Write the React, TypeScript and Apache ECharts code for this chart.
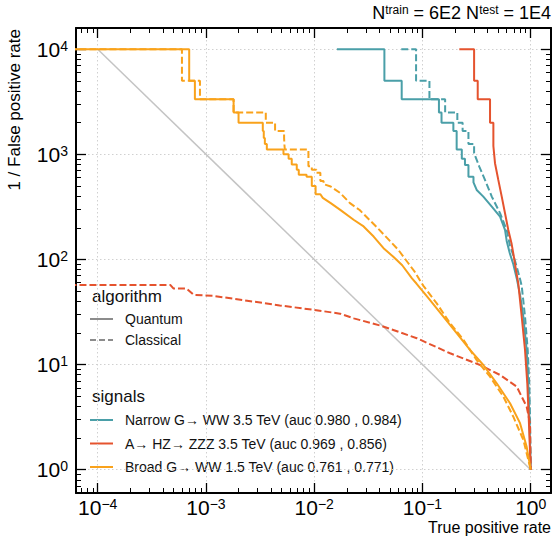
import React, { useEffect, useRef } from "react";
import * as echarts from "echarts";

const FONT = "'Liberation Sans', Arial, Helvetica, sans-serif";

// axis ranges (true positive rate, 1 / false positive rate)
const X_MIN = 6.3e-5;
const X_MAX = 1.54;
const Y_MIN = 0.6;
const Y_MAX = 15900;

const xMajorTicks = [1e-4, 1e-3, 1e-2, 1e-1, 1];
const yMajorTicks = [1, 10, 100, 1000, 10000];
const minorMultipliers = [2, 3, 4, 5, 6, 7, 8, 9];
const xMinorDecades = [1e-5, 1e-4, 1e-3, 1e-2, 1e-1, 1];
const yMinorDecades = [0.1, 1, 10, 100, 1000, 10000];

// Random classifier diagonal
const randomTPR = [1e-4, 1];
const randomInvFPR = [10000, 1];

// Broad G -> WW 1.5 TeV, quantum (solid)
const broadQStepTPR = [1e-5, 7.0e-4, 7.9e-4, 1.8e-3, 2.0e-3, 3.35e-3, 3.42e-3, 3.5e-3, 3.65e-3, 5.2e-3, 5.8e-3, 6.2e-3, 6.9e-3, 7.2e-3, 8.5e-3, 9.5e-3, 1.03e-2, 1.14e-2];
const broadQStepInvFPR = [10000, 5000, 3333, 2500, 2000, 1667, 1429, 1250, 1111, 1000, 909, 800, 714, 640, 610, 500, 417];
const broadQTailTPR = [0.012, 0.0142, 0.0174, 0.0233, 0.0286, 0.0354, 0.0437, 0.0538, 0.065, 0.08, 0.088, 0.117, 0.156, 0.207, 0.275, 0.365, 0.485, 0.644, 0.797, 0.918, 1.0];
const broadQTailInvFPR = [385, 343, 296, 237, 206, 165, 128, 106, 88, 66, 59, 41.3, 28.6, 19.9, 13.8, 9.9, 6.63, 4.28, 2.77, 1.65, 1.0];

// Broad G -> WW 1.5 TeV, classical (dashed)
const broadCStepTPR = [1e-5, 6.0e-4, 8.8e-4, 1.8e-3, 3.57e-3, 4.35e-3, 5.27e-3, 5.3e-3, 5.35e-3, 8.84e-3, 9.5e-3, 1.05e-2, 1.14e-2, 1.22e-2];
const broadCStepInvFPR = [10000, 5000, 3333, 2500, 2000, 1667, 1429, 1250, 1111, 769, 714, 667, 556];
const broadCTailTPR = [0.0122, 0.0142, 0.0174, 0.0214, 0.0263, 0.0325, 0.04, 0.05, 0.06, 0.074, 0.085, 0.102, 0.135, 0.18, 0.239, 0.317, 0.421, 0.559, 0.691, 0.855, 1.0];
const broadCTailInvFPR = [520, 494, 428, 343, 295, 237, 191, 150, 123, 92, 76, 56, 38.4, 24.7, 17.2, 11.0, 7.67, 4.95, 3.19, 1.92, 1.0];

// A -> HZ -> ZZZ 3.5 TeV, quantum (solid)
const azzzQStepTPR = [0.219, 0.3, 0.324, 0.421, 0.452];
const azzzQStepInvFPR = [10000, 5000, 3333, 2000];
const azzzQTailTPR = [0.452, 0.468, 0.502, 0.54, 0.579, 0.621, 0.667, 0.7, 0.73, 0.768, 0.826, 0.886, 0.93, 0.958, 1.0];
const azzzQTailInvFPR = [1200, 823, 571, 396, 275, 191, 140, 105, 80, 59, 28.6, 13.8, 6.63, 3.2, 1.0];

// A -> HZ -> ZZZ 3.5 TeV, classical (dashed)
const azzzCTPR = [1e-5, 4.7e-4, 5.0e-4, 6.6e-4, 7.7e-4, 1.17e-3, 2.4e-3, 4.8e-3, 9.8e-3, 1.73e-2, 2.32e-2, 4.2e-2, 8.87e-2, 0.18, 0.341, 0.521, 0.743, 0.918, 0.985, 1.0];
const azzzCInvFPR = [57, 57, 53, 53, 46, 45, 40.5, 36.5, 33.2, 30.5, 27.5, 23.3, 17.8, 12.8, 9.9, 7.96, 6.16, 3.97, 2.77, 1.0];

// Narrow G -> WW 3.5 TeV, quantum (solid)
const narrowQStepTPR = [0.0162, 0.0445, 0.0643, 0.142, 0.15, 0.193, 0.207, 0.231, 0.247, 0.266, 0.296];
const narrowQStepInvFPR = [10000, 5000, 3333, 2500, 2000, 1667, 1111, 909, 793, 613];
const narrowQTailTPR = [0.296, 0.317, 0.365, 0.437, 0.521, 0.579, 0.6, 0.64, 0.691, 0.743, 0.8, 0.855, 0.918, 0.95, 0.971, 1.0];
const narrowQTailInvFPR = [540, 458, 396, 318, 255, 191, 150, 115, 90, 66, 45, 28.6, 13.8, 6.6, 3.2, 1.0];

// Narrow G -> WW 3.5 TeV, classical (dashed)
const narrowCStepTPR = [0.0637, 0.0873, 0.116, 0.162, 0.21, 0.235, 0.266, 0.3];
const narrowCStepInvFPR = [10000, 5000, 3333, 2500, 2000, 1667, 1250];
const narrowCTailTPR = [0.3, 0.335, 0.378, 0.437, 0.521, 0.6, 0.644, 0.7, 0.75, 0.8, 0.826, 0.886, 0.938, 0.971, 0.985, 1.0];
const narrowCTailInvFPR = [1025, 764, 571, 396, 275, 191, 135, 105, 82, 64, 56, 28.6, 13.8, 6.6, 3.2, 1.0];

const signalNames = [
  "Narrow G\u2192 WW 3.5 TeV (auc 0.980 , 0.984)",
  "A\u2192 HZ\u2192 ZZZ 3.5 TeV (auc 0.969 , 0.856)",
  "Broad G\u2192 WW 1.5 TeV (auc 0.761 , 0.771)",
];
const algorithmNames = ["Quantum", "Classical"];

const TEAL = "#4a9fa8";
const RED = "#e5532e";
const ORANGE = "#f9a21b";
const GREY = "#8c8c8c";

function stairsThenTail(stepX: number[], stepY: number[], tailX: number[], tailY: number[]) {
  const pts: number[][] = [];
  for (let i = 0; i < stepY.length; i++) {
    pts.push([stepX[i], stepY[i]]);
    pts.push([stepX[i + 1], stepY[i]]);
  }
  for (let j = 0; j < tailX.length; j++) pts.push([tailX[j], tailY[j]]);
  return pts;
}
function zip(xs: number[], ys: number[]) {
  return xs.map((x, i) => [x, ys[i]]);
}
function minors(decades: number[], lo: number, hi: number) {
  const out: number[] = [];
  decades.forEach((d) => minorMultipliers.forEach((m) => {
    const v = m * d;
    if (v > lo && v < hi) out.push(v);
  }));
  return out;
}

const powLabel = (v: number) => {
  const e = Math.round(Math.log10(v));
  const s = e < 0 ? "\u2212" + String(-e) : String(e);
  return `{b|10}{s|${s}}`;
};
const powRich = {
  b: { fontSize: 21, fontFamily: FONT, color: "#000" },
  s: { fontSize: 14, fontFamily: FONT, color: "#000", verticalAlign: "top" },
};

export default function App() {
  const ref = useRef<HTMLDivElement>(null);
  useEffect(() => {
    const chart = echarts.init(ref.current!, null, { renderer: "svg" });
    const xMinor = minors(xMinorDecades, X_MIN, X_MAX);
    const yMinor = minors(yMinorDecades, Y_MIN, Y_MAX);
    const frame = { show: true, onZero: false, lineStyle: { color: "#000", width: 2 } };
    const noLine = { show: false, onZero: false };
    const grid = { show: true, lineStyle: { color: "#d0d0d0", type: [1.5, 2.5], width: 1 } };
    const xb = { type: "log", logBase: 10, min: X_MIN, max: X_MAX, gridIndex: 0, splitLine: { show: false }, minorTick: { show: false } };
    const yb = { type: "log", logBase: 10, min: Y_MIN, max: Y_MAX, gridIndex: 0, splitLine: { show: false }, minorTick: { show: false } };
    const major = (vals: number[]) => ({ show: true, inside: true, length: 10, customValues: vals, lineStyle: { color: "#000", width: 1.3 } });
    const minor = (vals: number[]) => ({ show: true, inside: true, length: 5, customValues: vals, lineStyle: { color: "#000", width: 1 } });

    const lineSeries = (name: string, data: number[][], color: string, dashed: boolean, z: number) => ({
      type: "line",
      name,
      data,
      xAxisIndex: 0,
      yAxisIndex: 0,
      symbol: "none",
      showSymbol: false,
      clip: true,
      silent: true,
      z,
      lineStyle: { color, width: 2, type: dashed ? [7, 3] : "solid" },
      itemStyle: { color },
    });

    const legendLine = (y: number, color: string, dashed: boolean) => ({
      type: "line",
      shape: { x1: 90, y1: y, x2: 113, y2: y },
      style: { stroke: color, lineWidth: 2, lineDash: dashed ? [6, 3] : null },
      silent: true,
    });
    const legendText = (x: number, y: number, text: string, size: number) => ({
      type: "text",
      x,
      y,
      silent: true,
      style: { text, fontSize: size, fontFamily: FONT, fill: "#111", align: "left", verticalAlign: "middle", textAlign: "left", textVerticalAlign: "middle" },
    });

    chart.setOption({
      animation: false,
      backgroundColor: "#fff",
      grid: { left: 76, top: 28, width: 475, height: 465, containLabel: false, outerBoundsMode: "none" },
      xAxis: [
        { ...xb, position: "bottom", axisLine: frame, axisTick: major(xMajorTicks), splitLine: grid,
          axisLabel: { show: true, customValues: xMajorTicks, margin: 4, formatter: powLabel, rich: powRich } },
        { ...xb, position: "top", axisLine: frame, axisTick: major(xMajorTicks), axisLabel: { show: false } },
        { ...xb, position: "bottom", axisLine: noLine, axisTick: minor(xMinor), axisLabel: { show: false } },
        { ...xb, position: "top", axisLine: noLine, axisTick: minor(xMinor), axisLabel: { show: false } },
      ],
      yAxis: [
        { ...yb, position: "left", axisLine: frame, axisTick: major(yMajorTicks), splitLine: grid,
          axisLabel: { show: true, customValues: yMajorTicks, margin: 8, formatter: powLabel, rich: powRich } },
        { ...yb, position: "right", axisLine: frame, axisTick: major(yMajorTicks), axisLabel: { show: false } },
        { ...yb, position: "left", axisLine: noLine, axisTick: minor(yMinor), axisLabel: { show: false } },
        { ...yb, position: "right", axisLine: noLine, axisTick: minor(yMinor), axisLabel: { show: false } },
      ],
      series: [
        { ...lineSeries("random", zip(randomTPR, randomInvFPR), "#c4c4c4", false, 1), lineStyle: { color: "#c4c4c4", width: 1.5 } },
        lineSeries(signalNames[0] + " classical", stairsThenTail(narrowCStepTPR, narrowCStepInvFPR, narrowCTailTPR, narrowCTailInvFPR), TEAL, true, 2),
        lineSeries(signalNames[0], stairsThenTail(narrowQStepTPR, narrowQStepInvFPR, narrowQTailTPR, narrowQTailInvFPR), TEAL, false, 2),
        lineSeries(signalNames[1] + " classical", zip(azzzCTPR, azzzCInvFPR), RED, true, 3),
        lineSeries(signalNames[1], stairsThenTail(azzzQStepTPR, azzzQStepInvFPR, azzzQTailTPR, azzzQTailInvFPR), RED, false, 3),
        lineSeries(signalNames[2] + " classical", stairsThenTail(broadCStepTPR, broadCStepInvFPR, broadCTailTPR, broadCTailInvFPR), ORANGE, true, 4),
        lineSeries(signalNames[2], stairsThenTail(broadQStepTPR, broadQStepInvFPR, broadQTailTPR, broadQTailInvFPR), ORANGE, false, 4),
      ],
      graphic: {
        elements: [
          {
            type: "text", x: 551, y: 13, silent: true,
            style: {
              text: "{n|N}{s|train}{n| = 6E2 N}{s|test}{n| = 1E4}",
              rich: {
                n: { fontSize: 18, fontFamily: FONT, fill: "#000" },
                s: { fontSize: 12, fontFamily: FONT, fill: "#000", verticalAlign: "top" },
              },
              align: "right", verticalAlign: "middle", textAlign: "right", textVerticalAlign: "middle",
            },
          },
          {
            type: "text", x: 551, y: 527, silent: true,
            style: { text: "True positive rate", fontSize: 16, fontFamily: FONT, fill: "#000", align: "right", verticalAlign: "middle", textAlign: "right", textVerticalAlign: "middle" },
          },
          {
            type: "text", x: 14, y: 29, rotation: Math.PI / 2, silent: true,
            style: { text: "1 / False positive rate", fontSize: 17, fontFamily: FONT, fill: "#000", align: "right", verticalAlign: "middle", textAlign: "right", textVerticalAlign: "middle" },
          },
          legendText(92, 296, "algorithm", 17),
          legendLine(319, GREY, false),
          legendText(125, 319, algorithmNames[0], 14),
          legendLine(340, GREY, true),
          legendText(125, 340, algorithmNames[1], 14),
          legendText(92, 396, "signals", 17),
          legendLine(420, TEAL, false),
          legendText(125, 420, signalNames[0], 14),
          legendLine(443.5, RED, false),
          legendText(125, 443.5, signalNames[1], 14),
          legendLine(467, ORANGE, false),
          legendText(125, 467, signalNames[2], 14),
        ],
      },
    });
    return () => chart.dispose();
  }, []);
  return <div ref={ref} style={{ position: "fixed", left: 0, top: 0, width: 554, height: 539, background: "#fff" }} />;
}
